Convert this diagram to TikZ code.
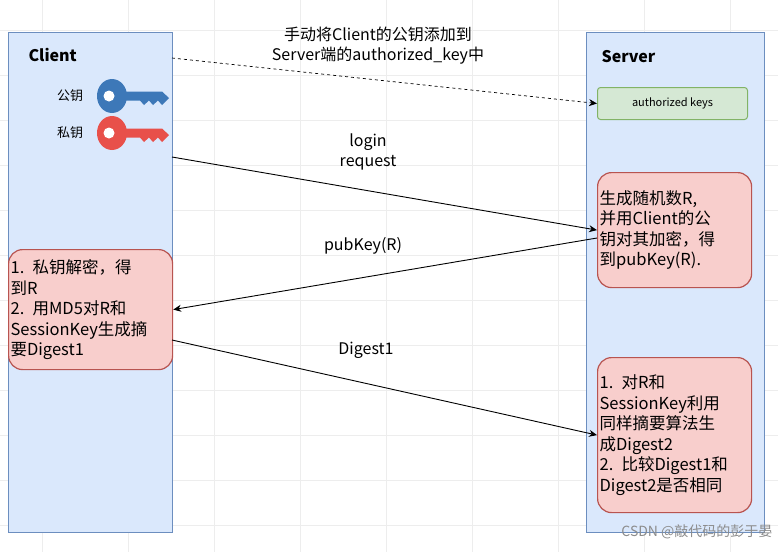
\documentclass[tikz,border=0pt]{standalone}
\usepackage{fontspec}
\setmainfont{Noto Sans CJK SC}
\usetikzlibrary{arrows.meta}
\definecolor{cfill}{HTML}{DAE8FC}\definecolor{cline}{HTML}{6C8EBF}
\definecolor{rfill}{HTML}{F8CECC}\definecolor{rline}{HTML}{B85450}
\definecolor{gfill}{HTML}{D5E8D4}\definecolor{gline}{HTML}{82B366}
\definecolor{kblue}{HTML}{3D78B8}\definecolor{kred}{HTML}{E8504A}
\tikzset{
 lane/.style={draw=cline,fill=cfill,line width=1.2pt,inner sep=0},
 step/.style={draw=rline,fill=rfill,line width=1.2pt,rounded corners=14pt,align=left,text width=#1,font=\fontsize{16.5}{20.5}\selectfont,inner sep=2pt},
 msg/.style={-{Stealth[length=8pt,width=7pt]},line width=0.9pt},
 lbl/.style={font=\fontsize{16}{20}\selectfont,align=center},
 key/.pic={\fill (0,0) ellipse (15 and 17); \fill[white] (-3,0) circle (5.5);
   \fill (10,-4.5) -- (50,-4.5) -- (57,2) -- (50,9)--(46,4.5)--(41,9)--(37,4.5)--(32,9)--(28,4.5)--(10,4.5)--cycle;}
}
\begin{document}
\begin{tikzpicture}[x=1pt,y=-1pt]
\useasboundingbox (0,0) rectangle (778,552);
\fill[white] (0,0) rectangle (778,552);
\foreach \x in {42,128,214,300,386,472,558,644,730} \draw[black!7] (\x,0)--(\x,552);
\foreach \y in {30,75,120,165,210,255,300,345,390,435,480,525} \draw[black!7] (0,\y)--(778,\y);
\node[lane,minimum width=164,minimum height=500,anchor=north west] (client) at (8,32) {};
\node[lane,minimum width=178,minimum height=500,anchor=north west] (server) at (586,32) {};
\node[font=\fontsize{16}{18}\selectfont\bfseries,anchor=west] (ct) at (25,55) {Client};
\node[font=\fontsize{16}{18}\selectfont\bfseries,anchor=west] (st) at (598,57) {Server};
\node[font=\fontsize{13}{15}\selectfont] (pk) at (70,96) {公钥};
\node[font=\fontsize{13}{15}\selectfont] (sk) at (70,133) {私钥};
\pic[kblue] at (112,96) {key};
\pic[kred] at (112,133) {key};
\node[draw=gline,fill=gfill,line width=1pt,rounded corners=3pt,minimum width=150,minimum height=32,font=\fontsize{11}{13}\selectfont,anchor=north west] (ak) at (597,87) {authorized keys};
\node[step=150pt,minimum height=115,anchor=north west] (s1) at (597,172) {生成随机数R,\\并用Client的公\\钥对其加密，得\\到pubKey(R).};
\node[step=160pt,minimum height=120,anchor=north west] (c1) at (8,249) {1. 私钥解密，得\\到R\\2. 用MD5对R和\\SessionKey生成摘\\要Digest1};
\node[step=150pt,minimum height=155,anchor=north west] (s2) at (597,357) {1. 对R和\\SessionKey利用\\同样摘要算法生\\成Digest2\\2. 比较Digest1和\\Digest2是否相同};
\coordinate (a1) at (172,58);
\draw[msg,dashed,line width=0.7pt] (a1) -- (ak.west);
\node[lbl] (l0) at (378,46) {手动将Client的公钥添加到\\Server端的authorized\_key中};
\coordinate (a2) at (172,157);
\draw[msg] (a2) -- (s1.west);
\node[lbl] (l1) at (368,152) {login\\request};
\coordinate (a3) at (597,238);
\draw[msg] (a3) -- (c1.east);
\node[lbl] (l2) at (363,246) {pubKey(R)};
\coordinate (a4) at (172,340);
\draw[msg] (a4) -- (s2.west);
\node[lbl] (l3) at (366,350) {Digest1};
\node[text=black!45,font=\fontsize{14}{16}\selectfont,anchor=east] (wm) at (776,532) {CSDN @敲代码的彭于晏};
\end{tikzpicture}
\end{document}
